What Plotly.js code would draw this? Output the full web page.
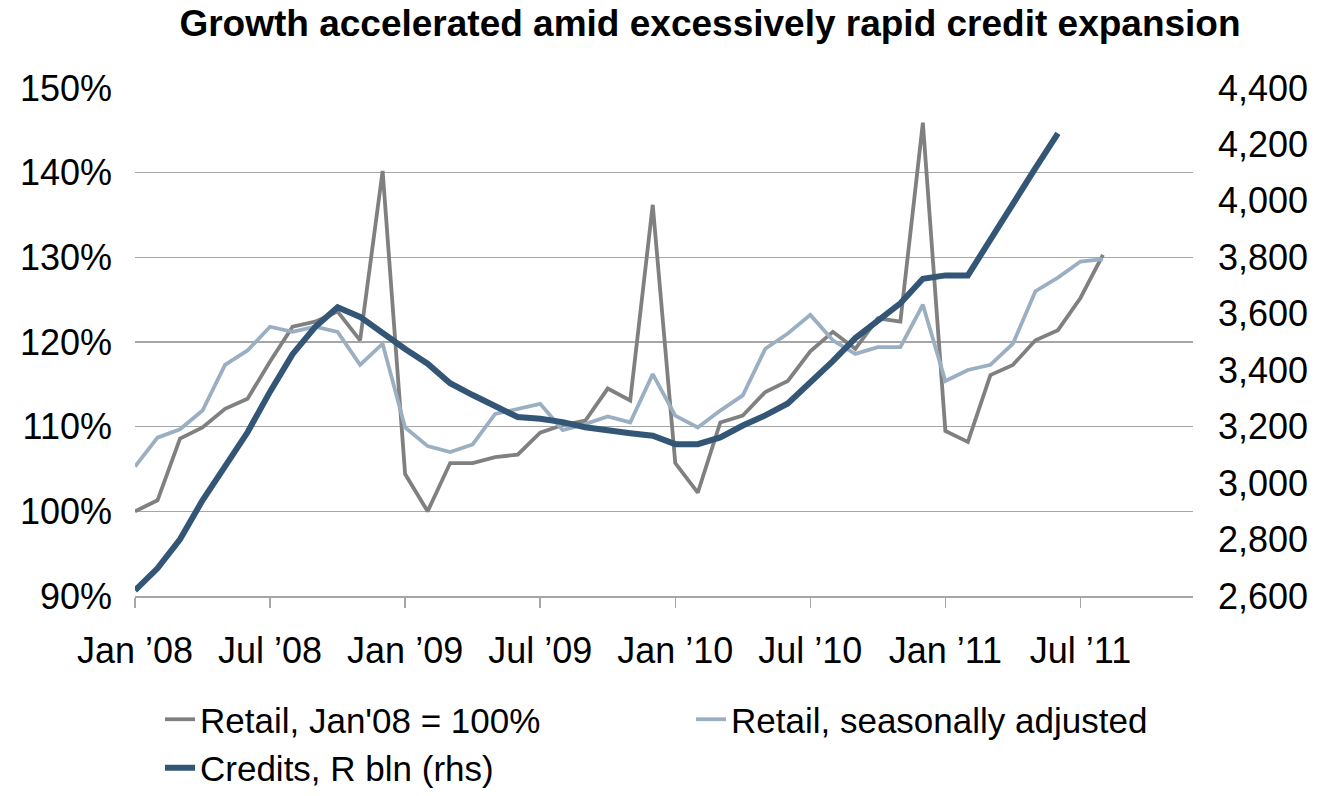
<!DOCTYPE html>
<html>
<head>
<meta charset="utf-8">
<script src="https://cdn.plot.ly/plotly-3.0.1.min.js"></script>
<style>html,body{margin:0;padding:0;background:#fff;}#chart{width:1321px;height:796px;}</style>
</head>
<body>
<div id="chart"></div>
<script>
const months = [
  "Jan 2008","Feb 2008","Mar 2008","Apr 2008","May 2008","Jun 2008","Jul 2008","Aug 2008","Sep 2008","Oct 2008","Nov 2008","Dec 2008",
  "Jan 2009","Feb 2009","Mar 2009","Apr 2009","May 2009","Jun 2009","Jul 2009","Aug 2009","Sep 2009","Oct 2009","Nov 2009","Dec 2009",
  "Jan 2010","Feb 2010","Mar 2010","Apr 2010","May 2010","Jun 2010","Jul 2010","Aug 2010","Sep 2010","Oct 2010","Nov 2010","Dec 2010",
  "Jan 2011","Feb 2011","Mar 2011","Apr 2011","May 2011","Jun 2011","Jul 2011","Aug 2011","Sep 2011","Oct 2011","Nov 2011","Dec 2011"
];
const retail = [
  100.0, 101.3, 108.6, 109.9, 112.1, 113.3, 117.7, 121.8, 122.4, 123.6, 120.2, 140.2,
  104.4, 100.0, 105.7, 105.7, 106.4, 106.7, 109.3, 110.2, 110.7, 114.5, 113.1, 136.2,
  105.7, 102.2, 110.5, 111.3, 114.1, 115.4, 118.9, 121.2, 119.2, 122.8, 122.4, 145.9,
  109.5, 108.2, 116.1, 117.3, 120.2, 121.4, 125.2, 130.3
];
const retailSA = [
  105.3, 108.7, 109.7, 111.9, 117.3, 119.0, 121.8, 121.2, 121.8, 121.2, 117.3, 119.8,
  109.9, 107.7, 107.0, 107.9, 111.5, 112.1, 112.7, 109.6, 110.3, 111.2, 110.5, 116.2,
  111.3, 109.9, 111.9, 113.7, 119.2, 121.0, 123.2, 120.2, 118.6, 119.4, 119.4, 124.4,
  115.4, 116.7, 117.3, 119.8, 126.0, 127.6, 129.5, 129.8
];
const credits = [
  2620, 2698, 2801, 2939, 3059, 3180, 3324, 3457, 3553, 3623, 3589, 3531,
  3475, 3423, 3354, 3312, 3270, 3234, 3228, 3216, 3198, 3186, 3177, 3168,
  3138, 3138, 3162, 3204, 3240, 3282, 3354, 3432, 3514, 3577, 3637, 3724,
  3736, 3736, 3866, 3992, 4116, 4239
];
const tickMonths = ["Jan 2008","Jul 2008","Jan 2009","Jul 2009","Jan 2010","Jul 2010","Jan 2011","Jul 2011"];
const tickLabels = ["Jan \u201908","Jul \u201908","Jan \u201909","Jul \u201909","Jan \u201910","Jul \u201910","Jan \u201911","Jul \u201911"];
const seriesNames = ["Retail, Jan'08 = 100%","Retail, seasonally adjusted","Credits, R bln (rhs)"];

const idx = arr => arr.map((_, i) => i);
const FONT = "Liberation Sans, Arial, sans-serif";

const traces = [
  {x: idx(retail), y: retail, name: seriesNames[0], type: 'scatter', mode: 'lines',
   line: {color: '#808080', width: 3.8}},
  {x: idx(retailSA), y: retailSA, name: seriesNames[1], type: 'scatter', mode: 'lines',
   line: {color: '#9AAFC2', width: 3.8}},
  {x: idx(credits), y: credits, name: seriesNames[2], type: 'scatter', mode: 'lines', yaxis: 'y2',
   line: {color: '#335677', width: 6}}
];

const layout = {
  width: 1321, height: 796,
  margin: {l: 135, r: 128, t: 88, b: 200},
  paper_bgcolor: '#fff', plot_bgcolor: '#fff',
  font: {family: FONT, color: '#000'},
  title: {text: '<b>Growth accelerated amid excessively rapid credit expansion</b>',
          font: {family: FONT, size: 37, color: '#000'},
          x: 710/1321, xref: 'container', xanchor: 'center',
          y: 1 - 23/796, yref: 'container', yanchor: 'middle'},
  showlegend: true,
  legend: {orientation: 'h', xref: 'container', yref: 'container',
           x: 160/1321, xanchor: 'left', y: 1 - 690/796, yanchor: 'top',
           font: {family: FONT, size: 35, color: '#000'},
           entrywidth: 486, entrywidthmode: 'pixels', traceorder: 'normal',
           bgcolor: 'rgba(0,0,0,0)'},
  xaxis: {range: [0, months.length - 1], tickvals: tickMonths.map(m => months.indexOf(m)), ticktext: tickLabels,
          showgrid: false, zeroline: false, showline: true, linecolor: '#A6A6A6', linewidth: 1.5,
          ticks: 'outside', ticklen: 10, tickcolor: '#A6A6A6', tickwidth: 1.5,
          ticklabelstandoff: 12,
          tickfont: {family: FONT, size: 36, color: '#000'}, fixedrange: true},
  yaxis: {range: [90, 150], dtick: 10, tick0: 90, ticksuffix: '%',
          showgrid: true, gridcolor: '#A6A6A6', gridwidth: 1.5, zeroline: false, showline: false,
          ticks: '', ticklabelstandoff: 22,
          tickfont: {family: FONT, size: 36, color: '#000'}},
  yaxis2: {range: [2600, 4400], dtick: 200, tick0: 2600, tickformat: ',d', overlaying: 'y', side: 'right',
           showgrid: false, zeroline: false, showline: false, ticks: '', ticklabelstandoff: 24,
           tickfont: {family: FONT, size: 36, color: '#000'}}
};

Plotly.newPlot('chart', traces, layout, {displayModeBar: false, staticPlot: true});
</script>
</body>
</html>
